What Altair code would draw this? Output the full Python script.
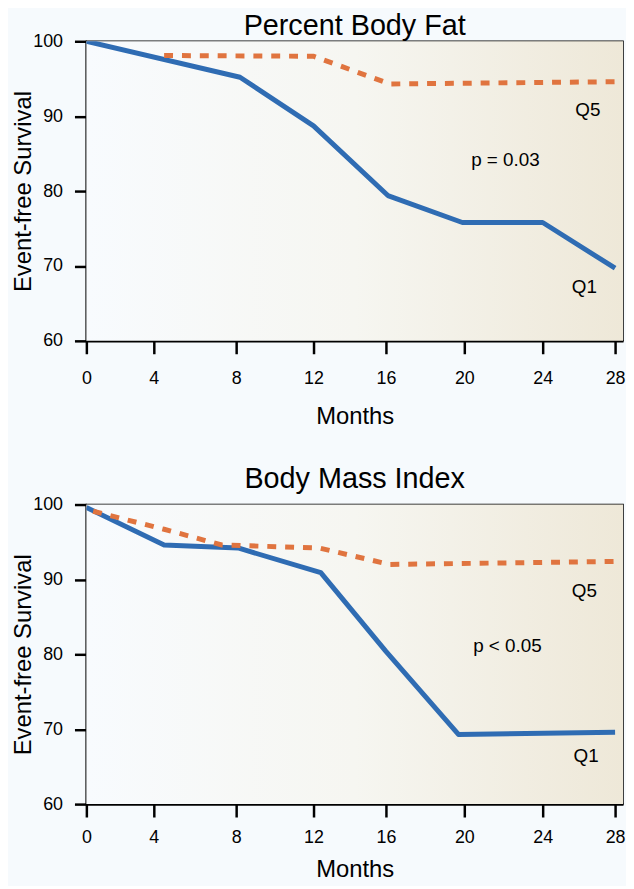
import altair as alt
import pandas as pd

# ---------------- data ----------------
# Panel 1: Percent Body Fat
pbf_q1_months = [0, 8.2, 12, 16.1, 19.9, 24, 28]
pbf_q1_surv = [100, 95.2, 88.7, 79.4, 75.8, 75.8, 69.7]
pbf_q5_months = [4.5, 12, 16.2, 28]
pbf_q5_surv = [98.1, 98.0, 94.3, 94.6]
pbf_labels = ["Q5", "p = 0.03", "Q1"]
pbf_label_months = [26.5, 22.1, 26.3]
pbf_label_surv = [90.8, 84.1, 67.2]

# Panel 2: Body Mass Index
bmi_q1_months = [0, 4.5, 8.1, 12.4, 16, 19.7, 28]
bmi_q1_surv = [99.6, 94.6, 94.2, 90.9, 80.4, 69.3, 69.6]
bmi_q5_months = [0.4, 4.5, 7.3, 12.3, 16.2, 28]
bmi_q5_surv = [99.1, 96.7, 94.6, 94.2, 92.0, 92.4]
bmi_labels = ["Q5", "p < 0.05", "Q1"]
bmi_label_months = [26.3, 22.2, 26.4]
bmi_label_surv = [88.45, 81.1, 66.4]

x_ticks = [0, 4, 8, 12, 16, 20, 24, 28]
y_ticks = [60, 70, 80, 90, 100]
x_extent = [0, 28.4]
y_extent = [60, 100]

FONT = "Liberation Sans"
BLUE = "#2f6cb3"
ORANGE = "#e0743f"
W, H = 541, 302

# the reference's month axis is slightly irregular (0-4 is narrower)
x_scale = alt.Scale(domain=[0, 4, 8, 12, 16, 20, 24, 28, 28.4],
                    range=[0, 68, 151, 229, 302, 381, 460, 533, 541],
                    nice=False, zero=False)
y_scale = alt.Scale(domain=y_extent, nice=False, zero=False)

grad = alt.LinearGradient(
    gradient="linear", x1=0, x2=1, y1=0, y2=0,
    stops=[alt.GradientStop(offset=0, color="#f8fbfe"),
           alt.GradientStop(offset=0.5, color="#f6f6f1"),
           alt.GradientStop(offset=1, color="#eee8d8")])


def panel(title, q1m, q1s, q5m, q5s, labs, labm, labs_y,
          title_offset, label_pad, title_pad):
    q1 = pd.DataFrame({"month": q1m, "surv": q1s})
    q5 = pd.DataFrame({"month": q5m, "surv": q5s})
    ann = pd.DataFrame({"month": labm, "surv": labs_y, "label": labs})
    bg = pd.DataFrame({"month": [x_extent[0]], "month2": [x_extent[1]],
                       "surv": [y_extent[0]], "surv2": [y_extent[1]]})

    x_axis = alt.Axis(values=x_ticks, title="Months", grid=False,
                      tickSize=13, tickWidth=2.5, tickColor="black",
                      domainColor="black", domainWidth=2.5,
                      labelFont=FONT, labelFontSize=18, labelColor="black",
                      labelPadding=label_pad, labelFlush=False,
                      titleFont=FONT, titleFontSize=24, titleFontWeight="normal",
                      titleColor="black", titlePadding=title_pad)
    y_axis = alt.Axis(values=y_ticks, title="Event-free Survival", grid=False,
                      tickSize=12, tickWidth=2.5, tickColor="black",
                      domainColor="black", domainWidth=2.5,
                      labelFont=FONT, labelFontSize=18, labelColor="black",
                      labelPadding=12, labelFlush=False,
                      titleFont=FONT, titleFontSize=24, titleFontWeight="normal",
                      titleColor="black", titlePadding=-3)
    X = alt.X("month:Q", scale=x_scale, axis=x_axis)
    Y = alt.Y("surv:Q", scale=y_scale, axis=y_axis)

    back = alt.Chart(bg).mark_rect(color=grad, strokeWidth=0).encode(
        x=X, x2="month2", y=Y, y2="surv2",
    )
    line_q1 = alt.Chart(q1).mark_line(color=BLUE, strokeWidth=5,
                                      strokeJoin="round", clip=True).encode(
        x=X, y=Y,
    )
    line_q5 = alt.Chart(q5).mark_line(color=ORANGE, strokeWidth=5,
                                      strokeDash=[9, 9], strokeCap="butt",
                                      clip=True).encode(
        x=X, y=Y,
    )
    text = alt.Chart(ann).mark_text(font=FONT, fontSize=19, color="black",
                                    align="center", baseline="middle").encode(
        x=X, y=Y, text="label:N",
    )
    return alt.layer(back, line_q1, line_q5, text).properties(
        width=W, height=H,
        title=alt.TitleParams(text=title, font=FONT, fontSize=29,
                              fontWeight="normal", color="black",
                              anchor="middle", frame="group", baseline="top",
                              offset=title_offset),
    )


p1 = panel("Percent Body Fat", pbf_q1_months, pbf_q1_surv, pbf_q5_months,
           pbf_q5_surv, pbf_labels, pbf_label_months, pbf_label_surv,
           title_offset=-9, label_pad=16, title_pad=17)
p2 = panel("Body Mass Index", bmi_q1_months, bmi_q1_surv, bmi_q5_months,
           bmi_q5_surv, bmi_labels, bmi_label_months, bmi_label_surv,
           title_offset=2, label_pad=12, title_pad=11)

chart = alt.vconcat(p1, p2, spacing=35).properties(
    background="#f6fafd",
    padding={"top": 0, "bottom": 0, "left": 3, "right": 0},
).configure_view(
    stroke="black", strokeWidth=1.5,
)

chart.save("out.html", embed_options={"renderer": "svg", "actions": False})
